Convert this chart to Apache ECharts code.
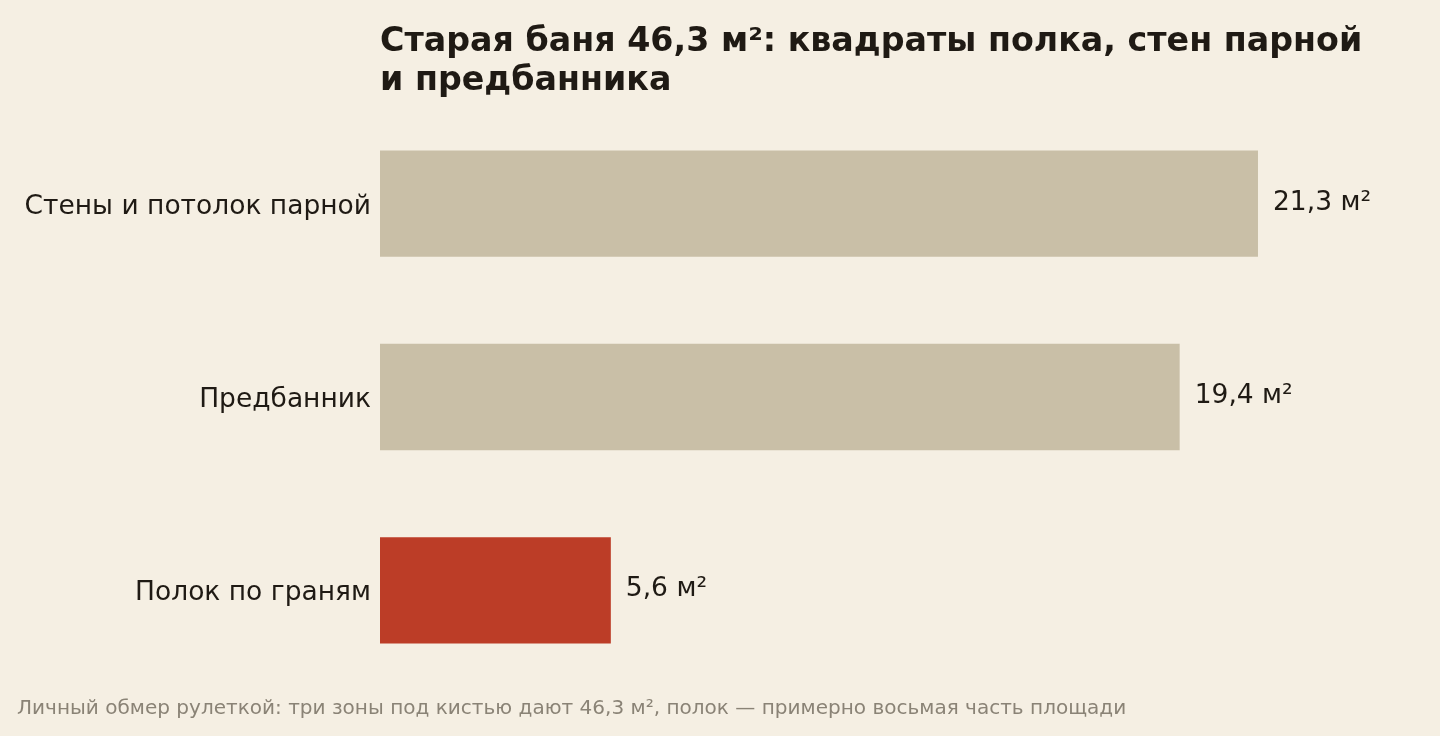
<!DOCTYPE html>
<html>
<head>
<meta charset="utf-8">
<script src="https://cdn.jsdelivr.net/npm/echarts@6/dist/echarts.min.js"></script>
<style>
  html, body { margin: 0; padding: 0; background: #f5efe3; }
  #chart { width: 1440px; height: 736px; }
</style>
</head>
<body>
<div id="chart"></div>
<script>
// данные замера, сверху вниз как на картинке
var categories = ['Стены и потолок парной', 'Предбанник', 'Полок по граням'];
var areas = [21.3, 19.4, 5.6];
var barColors = ['#c9bfa7', '#c9bfa7', '#bc3d27'];

var titleText = 'Старая баня 46,3 м²: квадраты полка, стен парной\nи предбанника';
var noteText = 'Личный обмер рулеткой: три зоны под кистью дают 46,3 м², полок — примерно восьмая часть площади';

var myChart = echarts.init(document.getElementById('chart'));

var option = {
    backgroundColor: '#f5efe3',
    animation: false,
    title: [
        {
            text: titleText,
            left: 375,
            top: 18,
            textStyle: {
                color: '#1f1a14',
                fontFamily: 'DejaVu Sans',
                fontSize: 33.3,
                fontWeight: 'bold',
                lineHeight: 39
            }
        },
        {
            text: noteText,
            left: 12,
            top: 694,
            textStyle: {
                color: '#8a8376',
                fontFamily: 'DejaVu Sans',
                fontSize: 20.05,
                fontWeight: 'normal'
            }
        }
    ],
    grid: {
        left: 380,
        top: 107,
        width: 1030.5,   // 25 единиц по шкале
        height: 580
    },
    xAxis: {
        type: 'value',
        min: 0,
        max: 25,
        show: false
    },
    yAxis: {
        type: 'category',
        inverse: true,
        data: categories,
        axisLine: { show: false },
        axisTick: { show: false },
        splitLine: { show: false },
        axisLabel: {
            margin: 9,
            formatter: function (v) {
                return '{c|' + v + '}';
            },
            rich: {
                c: {
                    color: '#1f1a14',
                    fontFamily: 'DejaVu Sans',
                    fontSize: 26.5,
                    padding: [6, 0, 0, 0]
                }
            }
        }
    },
    series: [
        {
            type: 'bar',
            barCategoryGap: '45%',
            data: areas.map(function (v, i) {
                return { value: v, itemStyle: { color: barColors[i] } };
            }),
            label: {
                show: true,
                position: 'right',
                distance: 15,
                color: '#1f1a14',
                fontFamily: 'DejaVu Sans',
                fontSize: 26.5,
                offset: [0, -1],
                formatter: function (p) {
                    return String(p.value).replace('.', ',') + ' м²';
                }
            }
        }
    ]
};

myChart.setOption(option);
</script>
</body>
</html>
